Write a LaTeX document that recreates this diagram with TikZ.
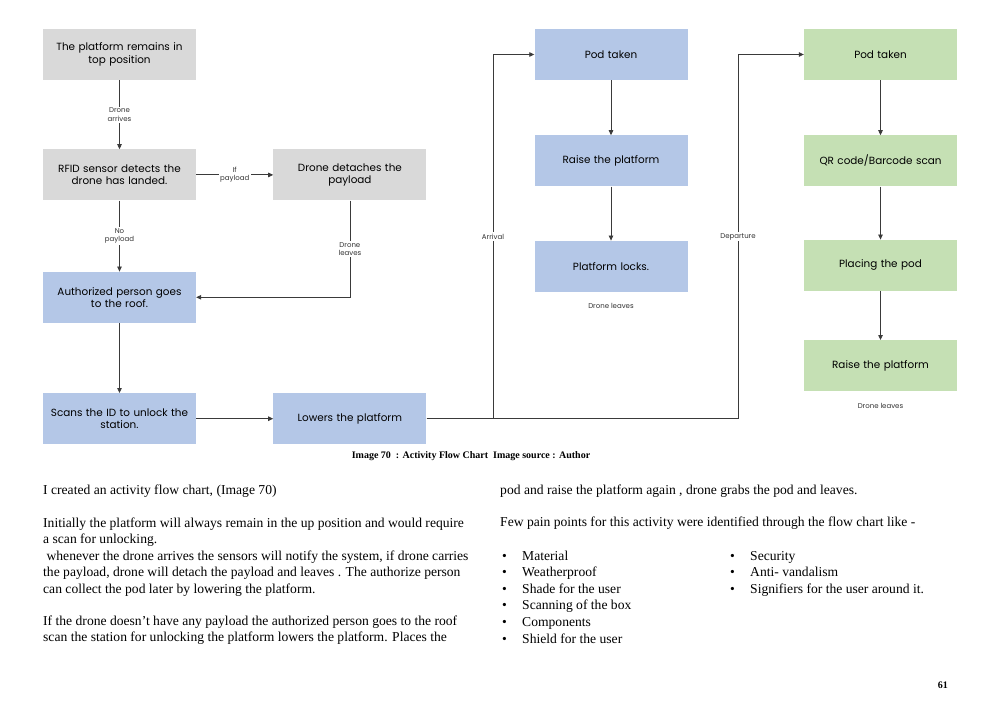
\documentclass[tikz,border=0pt]{standalone}
\usepackage{fontspec}
\setmainfont{Liberation Serif}
\newfontfamily\poppins{Poppins}
\usetikzlibrary{positioning,arrows.meta}
\definecolor{gris}{HTML}{D9D9D9}
\definecolor{azul}{HTML}{B4C7E7}
\definecolor{verde}{HTML}{C5E0B4}
\definecolor{linea}{HTML}{3A3A3A}
\tikzset{
  caja/.style={fill=#1,minimum width=153pt,minimum height=51pt,text width=150pt,align=center,inner sep=0pt,font=\poppins\fontsize{10.4}{12.3}\selectfont},
  nota/.style={fill=white,inner sep=1.5pt,align=center,text=black!80,font=\poppins\fontsize{7}{8.3}\selectfont},
  arr/.style={draw=linea,line width=0.8pt,-{Triangle[length=5pt,width=4.5pt]}},
  texto/.style={anchor=base west,inner sep=0pt,align=left,font=\fontsize{13.6}{16.6}\selectfont}
}
\begin{document}
\begin{tikzpicture}[x=1pt,y=-1pt,node distance=69pt and 77pt]
	\useasboundingbox[fill=white] (0,0) rectangle (1000,708);

	% left part of the chart
	\node[caja=gris] (arriba) at (119.5,54.5) {The platform remains in\\top position};
	\node[caja=gris,below=of arriba] (rfid) {RFID sensor detects the\\drone has landed.};
	\node[caja=gris,right=of rfid] (suelta) {Drone detaches the\\payload};
	\node[caja=azul,below=71pt of rfid] (persona) {Authorized person goes\\to the roof.};
	\node[caja=azul,below=70pt of persona] (escanea) {Scans the ID to unlock the\\station.};
	\node[caja=azul,right=of escanea] (baja) {Lowers the platform};

	% arrival column
	\node[caja=azul] (pod) at (611,54.5) {Pod taken};
	\node[caja=azul,below=55pt of pod] (sube) {Raise the platform};
	\node[caja=azul,below=54pt of sube] (bloquea) {Platform locks.};
	\node[nota,below=10pt of bloquea] (fin) {Drone leaves};

	% departure column
	\node[caja=verde] (podv) at (880.5,54.5) {Pod taken};
	\node[caja=verde,below=55pt of podv] (qr) {QR code/Barcode scan};
	\node[caja=verde,below=53pt of qr] (coloca) {Placing the pod};
	\node[caja=verde,below=49pt of coloca] (subev) {Raise the platform};
	\node[nota,below=10pt of subev] (finv) {Drone leaves};

	\draw[arr] (arriba) -- node[nota]{Drone\\arrives} (rfid);
	\draw[arr] (rfid) -- node[nota]{If\\payload} (suelta);
	\draw[arr] (rfid) -- node[nota]{No\\payload} (persona);
	\draw[arr] (suelta) |- node[nota,pos=0.25]{Drone\\leaves} (persona);
	\draw[arr] (persona) -- (escanea);
	\draw[arr] (escanea) -- (baja);

	\coordinate (llegada) at (493,0);
	\coordinate (salida) at (738,0);
	\draw[arr] (baja.east) -- (llegada |- baja.east) -- node[nota]{Arrival} (llegada |- pod.west) -- (pod.west);
	\draw[arr] (baja.east) -- (salida |- baja.east) -- node[nota]{Departure} (salida |- podv.west) -- (podv.west);
	\draw[arr] (pod) -- (sube);
	\draw[arr] (sube) -- (bloquea);
	\draw[arr] (podv) -- (qr);
	\draw[arr] (qr) -- (coloca);
	\draw[arr] (coloca) -- (subev);

	% caption and page text (multi-line nodes sit on their last baseline)
	\node[font=\bfseries\fontsize{10}{11}\selectfont] (pie) at (471,456) {Image 70\ \ : Activity Flow Chart\ \ Image source : Author};
	\node[texto] (intro) at (43,494) {I created an activity flow chart, (Image 70)};
	\node[texto] (parrafoA) at (43,593.4) {Initially the platform will always remain in the up position and would require\\a scan for unlocking.\\\ whenever the drone arrives the sensors will notify the system, if drone carries\\the payload, drone will detach the payload and leaves . The authorize person\\can collect the pod later by lowering the platform.};
	\node[texto] (parrafoB) at (43,641.6) {If the drone doesn’t have any payload the authorized person goes to the roof\\scan the station for unlocking the platform lowers the platform. Places the};
	\node[texto] (parrafoC) at (500,494) {pod and raise the platform again , drone grabs the pod and leaves.};
	\node[texto] (dolor) at (500,526) {Few pain points for this activity were identified through the flow chart like -};
	\foreach \Item [count=\i from 0] in {Material,Weatherproof,Shade for the user,Scanning of the box,Components,Shield for the user} {
		\node[texto] (punto\i) at (502,{560+16.6*\i}) {\textbullet};
		\node[texto] (lista\i) at (522,{560+16.6*\i}) {\Item};
	}
	\foreach \Item [count=\i from 0] in {Security,Anti- vandalism,Signifiers for the user around it.} {
		\node[texto] (puntob\i) at (730,{560+16.6*\i}) {\textbullet};
		\node[texto] (listab\i) at (750,{560+16.6*\i}) {\Item};
	}
	\node[anchor=base east,inner sep=0pt,font=\bfseries\fontsize{10}{12}\selectfont] (pagina) at (948,688) {61};
\end{tikzpicture}
\end{document}
